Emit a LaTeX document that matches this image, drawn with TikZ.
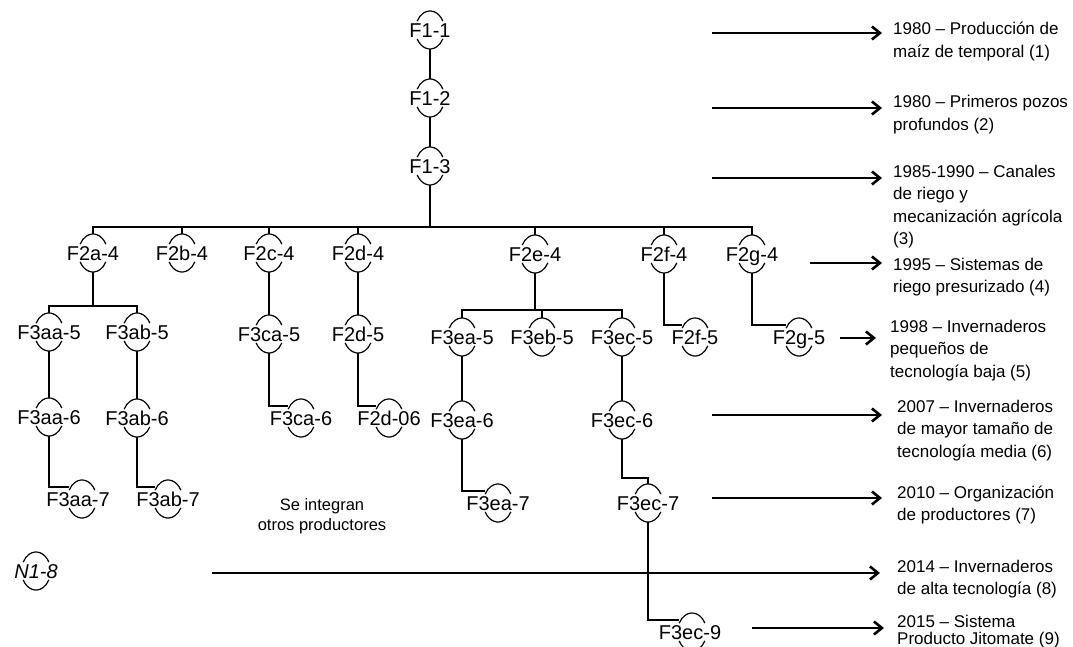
\documentclass[tikz,border=0pt]{standalone}
\usepackage{fontspec}
\setmainfont{Liberation Sans}
\usetikzlibrary{arrows.meta,shapes.geometric,calc}

\tikzset{
 ring/.style={ellipse,minimum width=29pt,minimum height=38pt,inner sep=0pt,draw=none},
 arcline/.style={line width=1.2pt},
 lab/.style={font=\fontsize{20}{24}\selectfont,inner sep=0pt,anchor=base},
 tree/.style={line width=1.6pt},
 trunk/.style={line width=2.2pt},
 arr/.style={line width=1.8pt,-{Straight Barb[length=8pt,width=13pt,line width=2.6pt]}},
 note/.style={font=\fontsize{17}{22.5}\selectfont,align=left,anchor=base west,inner sep=0pt},
}

\newcommand\tn[4][0]{%
 \node[ring] (#2) at #3 {};
 \draw[arcline] ([shift={(28:14.5pt and 19pt)}]#2.center) arc[start angle=28,end angle=152,x radius=14.5pt,y radius=19pt];
 \draw[arcline] ([shift={(208:14.5pt and 19pt)}]#2.center) arc[start angle=208,end angle=332,x radius=14.5pt,y radius=19pt];
 \node[lab] (#2t) at ([shift={(#1pt,-7.2pt)}]#2.center) {#4};
 \coordinate (#2in) at ([shift={(-13pt,12pt)}]#2.center);
}

\begin{document}
\begin{tikzpicture}[x=1pt,y=1pt]
\useasboundingbox (0,0) rectangle (1073,-647);

% level 1
\tn{F11}{(430,-30)}{F1-1}
\tn{F12}{(430,-98)}{F1-2}
\tn{F13}{(430,-166)}{F1-3}
% level 2
\tn{F2a4}{(93,-253)}{F2a-4}
\tn{F2b4}{(182,-253)}{F2b-4}
\tn{F2c4}{(269,-253)}{F2c-4}
\tn{F2d4}{(358,-253)}{F2d-4}
\tn{F2e4}{(535,-254)}{F2e-4}
\tn{F2f4}{(664,-254)}{F2f-4}
\tn{F2g4}{(752,-254)}{F2g-4}
% level 3
\tn{F3aa5}{(49,-332)}{F3aa-5}
\tn{F3ab5}{(137,-332)}{F3ab-5}
\tn{F3ca5}{(269,-334)}{F3ca-5}
\tn{F2d5}{(358,-334)}{F2d-5}
\tn{F3ea5}{(462,-337)}{F3ea-5}
\tn{F3eb5}{(542,-337)}{F3eb-5}
\tn{F3ec5}{(622,-337)}{F3ec-5}
\tn{F2f5}{(695,-337)}{F2f-5}
\tn{F2g5}{(799,-337)}{F2g-5}
% level 4
\tn{F3aa6}{(49,-417)}{F3aa-6}
\tn{F3ab6}{(137,-418)}{F3ab-6}
\tn{F3ca6}{(301,-418)}{F3ca-6}
\tn{F2d06}{(389,-418)}{F2d-06}
\tn{F3ea6}{(462,-420)}{F3ea-6}
\tn{F3ec6}{(622,-420)}{F3ec-6}
% level 5
\tn[-4]{F3aa7}{(82,-499)}{F3aa-7}
\tn{F3ab7}{(168,-499)}{F3ab-7}
\tn{F3ea7}{(498,-503)}{F3ea-7}
\tn{F3ec7}{(648,-503)}{F3ec-7}
% others
\tn{N18}{(36,-571)}{\itshape N1-8}
\tn[-2]{F3ec9}{(692,-632)}{F3ec-9}

% connectors
\draw[tree] (F11.south) -- (F12.north);
\draw[tree] (F12.south) -- (F13.north);
\coordinate (bus1) at (430,-227);
\draw[trunk] (F13.south) -- (bus1);
\draw[tree] (F2a4.north) -- (F2a4.north |- bus1) -- (F2g4.north |- bus1) -- (F2g4.north);
\foreach \b in {F2b4,F2c4,F2d4,F2e4,F2f4} \draw[tree] (\b.north) -- (\b.north |- bus1);

\coordinate (bus2) at (93,-306);
\draw[tree] (F2a4.south) -- (bus2);
\draw[tree] (F3aa5.north) -- (F3aa5.north |- bus2) -- (F3ab5.north |- bus2) -- (F3ab5.north);

\coordinate (bus3) at (535,-310);
\draw[tree] (F2e4.south) -- (bus3);
\draw[tree] (F3ea5.north) -- (F3ea5.north |- bus3) -- (F3ec5.north |- bus3) -- (F3ec5.north);
\draw[tree] (F3eb5.north) -- (F3eb5.north |- bus3);

\draw[tree] (F3aa5.south) -- (F3aa6.north);
\draw[tree] (F3ab5.south) -- (F3ab6.north);
\draw[tree] (F2c4.south) -- (F3ca5.north);
\draw[tree] (F2d4.south) -- (F2d5.north);
\draw[tree] (F3ea5.south) -- (F3ea6.north);
\draw[tree] (F3ec5.south) -- (F3ec6.north);

\draw[tree] (F3aa6.south) |- (F3aa7in);
\draw[tree] (F3ab6.south) |- (F3ab7in);
\draw[tree] (F3ca5.south) |- (F3ca6in);
\draw[tree] (F2d5.south) |- (F2d06in);
\draw[tree] (F2f4.south) |- (F2f5in);
\draw[tree] (F2g4.south) |- (F2g5in);
\draw[tree] (F3ea6.south) |- (F3ea7in);
\draw[tree] (F3ec6.south) |- ($(F3ec7.north)+(0,6pt)$) -- (F3ec7.north);
\draw[tree] (F3ec7.south) |- (F3ec9in);

% text
\node[font=\fontsize{16.5}{20}\selectfont,align=center,anchor=base,inner sep=0pt] (se) at (322,-530) {Se integran\\otros productores};

\node[note] (t1) at (893,-57.5) {1980 – Producción de\\maíz de temporal (1)};
\node[note] (t2) at (893,-130.5) {1980 – Primeros pozos\\profundos (2)};
\node[note] (t3) at (893,-244.5) {1985-1990 – Canales\\de riego y\\mecanización agrícola\\(3)};
\node[note] (t4) at (893,-292.5) {1995 – Sistemas de\\riego presurizado (4)};
\node[note] (t5) at (890,-377) {1998 – Invernaderos\\pequeños de\\tecnología baja (5)};
\node[note] (t6) at (897,-457) {2007 – Invernaderos\\de mayor tamaño de\\tecnología media (6)};
\node[note] (t7) at (897,-520.5) {2010 – Organización\\de productores (7)};
\node[note] (t8) at (897,-594.5) {2014 – Invernaderos\\de alta tecnología (8)};
\node[note,font=\fontsize{17}{17}\selectfont] (t9) at (897,-644) {2015 – Sistema\\Producto Jitomate (9)};

% arrows
\coordinate (a1s) at (712,-33);  \coordinate (a1e) at (882,-33);
\coordinate (a2s) at (712,-108); \coordinate (a2e) at (882,-108);
\coordinate (a3s) at (712,-178); \coordinate (a3e) at (882,-178);
\coordinate (a4s) at (810,-263); \coordinate (a4e) at (882,-263);
\coordinate (a5s) at (840,-338); \coordinate (a5e) at (876,-338);
\coordinate (a6s) at (712,-415); \coordinate (a6e) at (882,-415);
\coordinate (a7s) at (712,-498); \coordinate (a7e) at (882,-498);
\coordinate (a8s) at (212,-573); \coordinate (a8e) at (880,-573);
\coordinate (a9s) at (752,-628); \coordinate (a9e) at (884,-628);
\foreach \i in {1,...,9} \draw[arr] (a\i s) -- (a\i e);
\end{tikzpicture}
\end{document}
